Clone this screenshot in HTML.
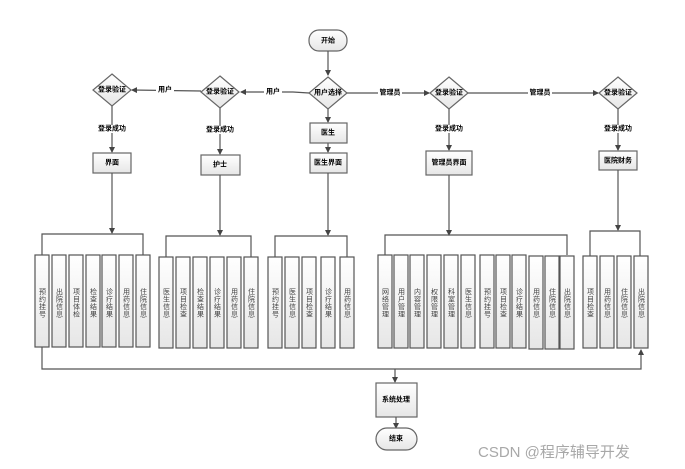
<!DOCTYPE html>
<html><head><meta charset="utf-8"><style>
html,body{margin:0;padding:0;background:#fff;}
svg{display:block;font-family:"Liberation Sans","Noto Sans CJK SC",sans-serif;}
.l{font-size:7px;font-weight:bold;fill:#000;text-anchor:middle;dominant-baseline:central;}
.v{font-size:7px;fill:#444;writing-mode:tb;text-anchor:middle;letter-spacing:0.5px;}
.c{fill:url(#g);stroke:#555;stroke-width:1.2;}
.b{fill:url(#g);stroke:#666;stroke-width:1.2;}
.ln{stroke:#555;stroke-width:1.2;fill:none;}
</style></head><body>
<svg width="685" height="469" viewBox="0 0 685 469">
<defs>
<linearGradient id="g" x1="0" y1="0" x2="0" y2="1"><stop offset="0" stop-color="#fff"/><stop offset="1" stop-color="#e6e6e6"/></linearGradient>
<marker id="a" markerWidth="6" markerHeight="6" refX="5" refY="3" orient="auto" markerUnits="userSpaceOnUse"><path d="M0,0 L6,3 L0,6z" fill="#444"/></marker>
</defs>
<rect x="309" y="30" width="38" height="21" rx="10" class="b"/>
<text x="328" y="41" class="l">开始</text>
<line x1="328" y1="51" x2="328" y2="75" class="ln" marker-end="url(#a)"/>
<polygon points="328,77 347,93 328,109 309,93" class="b"/>
<text x="328" y="93" class="l">用户选择</text>
<polygon points="220,76 239,92 220,108 201,92" class="b"/>
<text x="220" y="92" class="l">登录验证</text>
<polygon points="112,74 131,90 112,106 93,90" class="b"/>
<text x="112" y="90" class="l">登录验证</text>
<polygon points="449,77 468,93 449,109 430,93" class="b"/>
<text x="449" y="93" class="l">登录验证</text>
<polygon points="618,77 637,93 618,109 599,93" class="b"/>
<text x="618" y="93" class="l">登录验证</text>
<polyline points="309,93 293,92 241,92" class="ln" marker-end="url(#a)"/>
<rect x="264" y="88" width="18" height="8" fill="#fff"/><text x="273" y="92" class="l">用户</text>
<line x1="201" y1="91" x2="132" y2="90" class="ln" marker-end="url(#a)"/>
<rect x="156" y="86" width="18" height="8" fill="#fff"/><text x="165" y="90" class="l">用户</text>
<line x1="347" y1="93" x2="429" y2="93" class="ln" marker-end="url(#a)"/>
<rect x="378" y="89" width="24" height="8" fill="#fff"/><text x="390" y="93" class="l">管理员</text>
<line x1="468" y1="93" x2="598" y2="93" class="ln" marker-end="url(#a)"/>
<rect x="528" y="89" width="24" height="8" fill="#fff"/><text x="540" y="93" class="l">管理员</text>
<line x1="112" y1="106" x2="112" y2="152" class="ln" marker-end="url(#a)"/>
<rect x="97" y="125" width="30" height="8" fill="#fff"/><text x="112" y="129" class="l">登录成功</text>
<line x1="220" y1="108" x2="220" y2="154" class="ln" marker-end="url(#a)"/>
<rect x="205" y="126" width="30" height="8" fill="#fff"/><text x="220" y="130" class="l">登录成功</text>
<line x1="449" y1="109" x2="449" y2="150" class="ln" marker-end="url(#a)"/>
<rect x="434" y="125" width="30" height="8" fill="#fff"/><text x="449" y="129" class="l">登录成功</text>
<line x1="618" y1="109" x2="618" y2="150" class="ln" marker-end="url(#a)"/>
<rect x="603" y="125" width="30" height="8" fill="#fff"/><text x="618" y="129" class="l">登录成功</text>
<line x1="328" y1="109" x2="328" y2="122" class="ln" marker-end="url(#a)"/>
<line x1="328" y1="143" x2="328" y2="152" class="ln" marker-end="url(#a)"/>
<rect x="93" y="153" width="38" height="20" class="b"/><text x="112" y="163" class="l">界面</text>
<rect x="201" y="155" width="39" height="20" class="b"/><text x="220" y="165" class="l">护士</text>
<rect x="310" y="123" width="37" height="20" class="b"/><text x="328" y="133" class="l">医生</text>
<rect x="310" y="153" width="37" height="20" class="b"/><text x="328" y="163" class="l">医生界面</text>
<rect x="426" y="151" width="46" height="24" class="b"/><text x="449" y="163" class="l">管理员界面</text>
<rect x="599" y="151" width="38" height="19" class="b"/><text x="618" y="161" class="l">医院财务</text>
<line x1="112" y1="173" x2="112" y2="233" class="ln" marker-end="url(#a)"/>
<line x1="220" y1="175" x2="220" y2="235" class="ln" marker-end="url(#a)"/>
<line x1="328" y1="173" x2="328" y2="235" class="ln" marker-end="url(#a)"/>
<line x1="449" y1="175" x2="449" y2="235" class="ln" marker-end="url(#a)"/>
<line x1="618" y1="170" x2="618" y2="230" class="ln" marker-end="url(#a)"/>
<polyline points="42,255 42,234 143,234 143,255" class="ln"/>
<polyline points="166,257 166,236 251,236 251,257" class="ln"/>
<polyline points="275,257 275,236 347,236 347,257" class="ln"/>
<polyline points="385,255 385,235 567,235 567,255" class="ln"/>
<polyline points="590,256 590,231 640,231 640,256" class="ln"/>
<rect x="35" y="255" width="14" height="92" class="c"/><text x="42" y="303" class="v">预约挂号</text>
<rect x="52" y="255" width="14" height="92" class="c"/><text x="59" y="303" class="v">出院信息</text>
<rect x="69" y="255" width="14" height="92" class="c"/><text x="76" y="303" class="v">项目体检</text>
<rect x="86" y="255" width="14" height="92" class="c"/><text x="93" y="303" class="v">检查结果</text>
<rect x="102" y="255" width="14" height="92" class="c"/><text x="109" y="303" class="v">诊疗结果</text>
<rect x="119" y="255" width="14" height="92" class="c"/><text x="126" y="303" class="v">用药信息</text>
<rect x="136" y="255" width="14" height="92" class="c"/><text x="143" y="303" class="v">住院信息</text>
<rect x="159" y="257" width="14" height="91" class="c"/><text x="166" y="303" class="v">医生信息</text>
<rect x="176" y="257" width="14" height="91" class="c"/><text x="183" y="303" class="v">项目检查</text>
<rect x="193" y="257" width="14" height="91" class="c"/><text x="200" y="303" class="v">检查结果</text>
<rect x="210" y="257" width="14" height="91" class="c"/><text x="217" y="303" class="v">诊疗结果</text>
<rect x="227" y="257" width="14" height="91" class="c"/><text x="234" y="303" class="v">用药信息</text>
<rect x="244" y="257" width="14" height="91" class="c"/><text x="251" y="303" class="v">住院信息</text>
<rect x="268" y="257" width="14" height="91" class="c"/><text x="275" y="303" class="v">预约挂号</text>
<rect x="285" y="257" width="14" height="91" class="c"/><text x="292" y="303" class="v">医生信息</text>
<rect x="302" y="257" width="14" height="91" class="c"/><text x="309" y="303" class="v">项目检查</text>
<rect x="321" y="257" width="14" height="91" class="c"/><text x="328" y="303" class="v">诊疗结果</text>
<rect x="340" y="257" width="14" height="91" class="c"/><text x="347" y="303" class="v">用药信息</text>
<rect x="378" y="255" width="14" height="93" class="c"/><text x="385" y="303" class="v">网络管理</text>
<rect x="394" y="255" width="14" height="93" class="c"/><text x="401" y="303" class="v">用户管理</text>
<rect x="410" y="255" width="14" height="93" class="c"/><text x="417" y="303" class="v">内容管理</text>
<rect x="427" y="255" width="14" height="93" class="c"/><text x="434" y="303" class="v">权限管理</text>
<rect x="444" y="255" width="14" height="93" class="c"/><text x="451" y="303" class="v">科室管理</text>
<rect x="461" y="255" width="14" height="93" class="c"/><text x="468" y="303" class="v">医生信息</text>
<rect x="480" y="255" width="14" height="93" class="c"/><text x="487" y="303" class="v">预约挂号</text>
<rect x="496" y="255" width="14" height="93" class="c"/><text x="503" y="303" class="v">项目检查</text>
<rect x="512" y="255" width="14" height="93" class="c"/><text x="519" y="303" class="v">诊疗结果</text>
<rect x="529" y="256" width="14" height="93" class="c"/><text x="536" y="303" class="v">用药信息</text>
<rect x="545" y="256" width="14" height="93" class="c"/><text x="552" y="303" class="v">住院信息</text>
<rect x="560" y="256" width="14" height="93" class="c"/><text x="567" y="303" class="v">出院信息</text>
<rect x="583" y="256" width="14" height="92" class="c"/><text x="590" y="303" class="v">项目检查</text>
<rect x="600" y="256" width="14" height="92" class="c"/><text x="607" y="303" class="v">用药信息</text>
<rect x="617" y="256" width="14" height="92" class="c"/><text x="624" y="303" class="v">住院信息</text>
<rect x="634" y="256" width="14" height="92" class="c"/><text x="641" y="303" class="v">出院信息</text>
<polyline points="42,347 42,369 641,369 641,350" class="ln" marker-end="url(#a)"/>
<line x1="395" y1="369" x2="395" y2="382" class="ln" marker-end="url(#a)"/>
<rect x="376" y="383" width="41" height="34" class="b"/><text x="396" y="400" class="l">系统处理</text>
<line x1="396" y1="417" x2="396" y2="428" class="ln" marker-end="url(#a)"/>
<rect x="376" y="428" width="41" height="22" rx="11" class="b"/><text x="396" y="439" class="l">结束</text>
<text x="478" y="457" font-size="15" fill="#a8a8a8" style="font-family:'Liberation Sans','Noto Sans CJK SC',sans-serif">CSDN @程序辅导开发</text>
</svg>
</body></html>
